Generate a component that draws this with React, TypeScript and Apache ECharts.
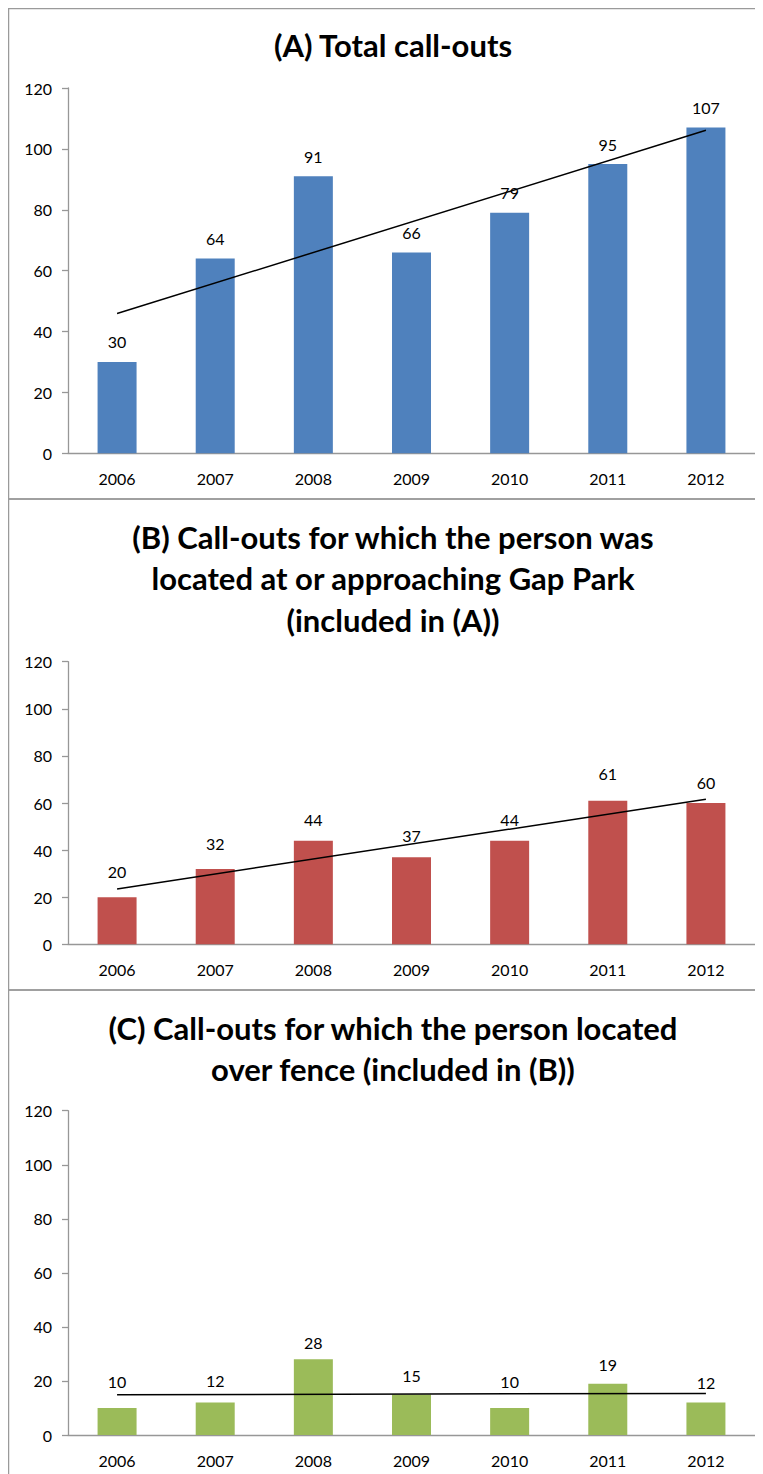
import React, { useEffect, useRef } from "react";
import * as echarts from "echarts";

const years = ["2006", "2007", "2008", "2009", "2010", "2011", "2012"];
const totalCallouts = [30, 64, 91, 66, 79, 95, 107];
const gapParkCallouts = [20, 32, 44, 37, 44, 61, 60];
const overFenceCallouts = [10, 12, 28, 15, 10, 19, 12];
// linear trendline end points (first and last year)
const trendTotal = [45.9, 106.1];
const trendGapPark = [23.5, 61.6];
const trendOverFence = [14.9, 15.4];
const titleA = "(A) Total call-outs";
const titleB = "(B) Call-outs for which the person was\nlocated at or approaching Gap Park\n(included in (A))";
const titleC = "(C) Call-outs for which the person located\nover fence (included in (B))";

const FONT = "Lato, 'Open Sans', sans-serif";
const AXIS = "#979797";
// label gap above bar tops (style only)
const labelGap = [
  [12, 12, 12, 12, 12, 12, 12],
  [18, 17, 13, 14, 13, 19, 13],
  [18, 14, 9, 11, 18, 11, 12],
];

function trendData(ends: number[]) {
  const arr: (number | null)[] = years.map(() => null);
  arr[0] = ends[0];
  arr[arr.length - 1] = ends[1];
  return arr;
}

export default function App() {
  const ref = useRef<HTMLDivElement>(null);
  useEffect(() => {
    if (!ref.current) return;
    const chart = echarts.init(ref.current, undefined, { renderer: "svg" });
    const grids = [
      { left: 60, right: 8, top: 80, height: 365.3 },
      { left: 60, right: 8, top: 653.7, height: 282.6 },
      { left: 60, right: 8, top: 1102.7, height: 324.3 },
    ];
    const xAxes = grids.map((_, i) => ({
      type: "category",
      gridIndex: i,
      data: years,
      axisLine: { lineStyle: { color: AXIS, width: 1.3 } },
      axisTick: { length: 6, lineStyle: { color: AXIS, width: 1.3 } },
      axisLabel: { color: "#000", fontFamily: FONT, fontSize: 16, margin: 17 },
    }));
    const yAxes = grids.map((_, i) => ({
      type: "value",
      gridIndex: i,
      min: 0,
      max: 120,
      interval: 20,
      axisLine: { show: true, lineStyle: { color: AXIS, width: 1.3 } },
      axisTick: { show: true, length: 6, lineStyle: { color: AXIS, width: 1.3 } },
      axisLabel: { color: "#000", fontFamily: FONT, fontSize: 16, margin: 16 },
      splitLine: { show: false },
    }));
    const colors = ["#4f81bd", "#c0504d", "#9bbb59"];
    const values = [totalCallouts, gapParkCallouts, overFenceCallouts];
    const trends = [trendTotal, trendGapPark, trendOverFence];
    const series: any[] = [];
    values.forEach((v, i) => {
      series.push({
        type: "bar",
        xAxisIndex: i,
        yAxisIndex: i,
        data: v.map((val, j) => ({ value: val, label: { distance: labelGap[i][j] } })),
        barWidth: 39,
        itemStyle: { color: colors[i] },
        label: {
          show: true,
          position: "top",
          color: "#000",
          fontFamily: FONT,
          fontSize: 16,
        },
      });
      series.push({
        type: "line",
        xAxisIndex: i,
        yAxisIndex: i,
        data: trendData(trends[i]),
        connectNulls: true,
        symbol: "none",
        silent: true,
        lineStyle: { color: "#000", width: 1.5 },
        z: 5,
      });
    });
    const borderStyle = { fill: "none", stroke: "#9a9a9a", lineWidth: 1.5 };
    const titleStyle = { fontFamily: FONT, fontWeight: "bold", fontSize: 31, fill: "#000", align: "center", verticalAlign: "middle" };
    chart.setOption({
      animation: false,
      grid: grids,
      xAxis: xAxes,
      yAxis: yAxes,
      series,
      graphic: [
        { type: "rect", shape: { x: 0.5, y: 0.5, width: 770, height: 490.5 }, style: borderStyle, silent: true },
        { type: "rect", shape: { x: 0.5, y: 491, width: 770, height: 491 }, style: borderStyle, silent: true },
        { type: "rect", shape: { x: 0.5, y: 982, width: 770, height: 500 }, style: borderStyle, silent: true },
        { type: "text", x: 385, y: 37, style: { ...titleStyle, text: titleA } },
        { type: "text", x: 385, y: 570, style: { ...titleStyle, text: titleB, lineHeight: 41.5 } },
        { type: "text", x: 385, y: 1040, style: { ...titleStyle, text: titleC, lineHeight: 41 } },
      ],
    });
    return () => chart.dispose();
  }, []);
  return <div ref={ref} style={{ width: 755, height: 1466 }} />;
}
